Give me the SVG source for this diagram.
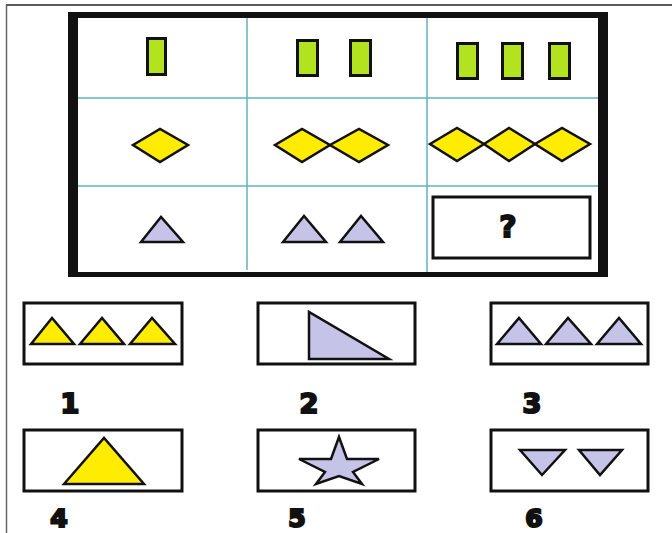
<svg xmlns="http://www.w3.org/2000/svg" width="672" height="533" viewBox="0 0 672 533">
<style>
.grid{stroke:#5fb3bb;stroke-width:1.5;fill:none}
.bar{fill:#b3e21f;stroke:#111;stroke-width:3}
.dia{fill:#ffec00;stroke:#111;stroke-width:2.5;stroke-linejoin:miter}
.tri{fill:#c6c3e8;stroke:#111;stroke-width:2.5;stroke-linejoin:miter}
.ytri{fill:#ffec00;stroke:#111;stroke-width:2.5}
.box{fill:#fff;stroke:#111;stroke-width:3}
.lbl{font-family:"DejaVu Sans",sans-serif;font-weight:bold;font-size:27px;fill:#111;stroke:#111;stroke-width:2.2;text-anchor:middle}
.lbl2{font-family:"DejaVu Sans",sans-serif;font-weight:bold;font-size:25px;fill:#111;stroke:#111;stroke-width:2.2;text-anchor:middle}
</style>
<rect width="672" height="533" fill="#fff"/>
<line x1="6" y1="5" x2="672" y2="5" stroke="#222" stroke-width="1.5"/>
<line x1="6.5" y1="5" x2="6.5" y2="533" stroke="#666" stroke-width="1.5"/>
<g id="matrix">
<path d="M68 12H608V277H68Z M78 18V272H598V18Z" fill="#111" fill-rule="evenodd"/>
<g class="grid">
<line x1="247" y1="18" x2="247" y2="270"/>
<line x1="427" y1="18" x2="427" y2="272"/>
<line x1="78" y1="98" x2="598" y2="98"/>
<line x1="78" y1="186" x2="598" y2="186"/>
</g>
</g>
<g id="cell-1-1"><rect class="bar" x="147.5" y="38.5" width="18" height="36"/></g>
<g id="cell-1-2"><rect class="bar" x="297.5" y="40.5" width="20" height="35"/><rect class="bar" x="350.5" y="40.5" width="20" height="35"/></g>
<g id="cell-1-3"><rect class="bar" x="457.5" y="43.5" width="20" height="35"/><rect class="bar" x="502.5" y="43.5" width="20" height="35"/><rect class="bar" x="549.5" y="43.5" width="20" height="35"/></g>
<g id="cell-2-1"><polygon class="dia" points="133,145 160,129 188,145 160,162"/></g>
<g id="cell-2-2"><polygon class="dia" points="275,145 302,129 330,145 302,162"/><polygon class="dia" points="330,145 359,129 388,145 359,162"/></g>
<g id="cell-2-3"><polygon class="dia" points="430,144 457,128 484,144 457,161"/><polygon class="dia" points="484,144 509,128 535,144 509,161"/><polygon class="dia" points="535,144 562,128 590,144 562,161"/></g>
<g id="cell-3-1"><polygon class="tri" points="141,242 161,217 183,242"/></g>
<g id="cell-3-2"><polygon class="tri" points="283,242 304,216 326,242"/><polygon class="tri" points="340,242 361,216 383,242"/></g>
<g id="cell-3-3"><rect class="box" x="433" y="197" width="157" height="61"/><text x="508" y="237" font-family="DejaVu Sans,sans-serif" font-weight="bold" font-size="30" text-anchor="middle" fill="#111" stroke="#111" stroke-width="1.8">?</text></g>
<g id="option-1"><rect class="box" x="24" y="303" width="158" height="61"/><polygon class="ytri" points="31,344 52,318 74,344"/><polygon class="ytri" points="80,344 102,318 124,344"/><polygon class="ytri" points="130,344 152,318 175,344"/><text class="lbl" x="70" y="413">1</text></g>
<g id="option-2"><rect class="box" x="258" y="303" width="157" height="61"/><polygon class="tri" points="309,312 309,359 389,359"/><text class="lbl" x="309" y="413">2</text></g>
<g id="option-3"><rect class="box" x="491" y="303" width="157" height="61"/><polygon class="tri" points="497,344 519,318 541,344"/><polygon class="tri" points="546,344 568,318 591,344"/><polygon class="tri" points="597,344 619,318 641,344"/><text class="lbl" x="532" y="413">3</text></g>
<g id="option-4"><rect class="box" x="24" y="430" width="158" height="61"/><polygon class="ytri" points="64,484 104,438 144,484"/><text class="lbl2" x="59" y="527">4</text></g>
<g id="option-5"><rect class="box" x="258" y="430" width="157" height="61"/><polygon class="tri" points="339,437 347,459 379,459 353,472 362,484 339,476 316,484 325,472 299,459 331,459"/><text class="lbl2" x="297" y="527">5</text></g>
<g id="option-6"><rect class="box" x="491" y="430" width="157" height="61"/><polygon class="tri" points="520,450 565,450 542,475"/><polygon class="tri" points="579,450 622,450 600,475"/><text class="lbl2" x="534" y="527">6</text></g>
</svg>
